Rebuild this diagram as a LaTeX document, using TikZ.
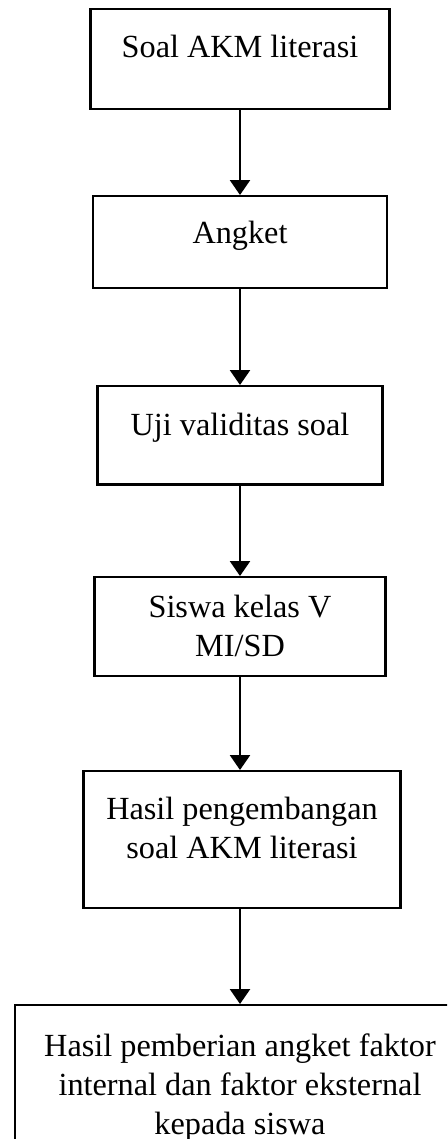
\documentclass[tikz,border=0pt]{standalone}
\usepackage{fontspec}
\setmainfont{Liberation Serif}
\usetikzlibrary{positioning, arrows.meta}
\tikzset{stepbox/.style={rectangle, draw, line width=0.9pt, anchor=north}}
\tikzset{steptext/.style={align=center, inner sep=0pt,
font=\fontsize{12.1}{14.6}\selectfont}}
\tikzset{flow/.style={-{Triangle[width=7.5pt, length=5.6pt]}, line width=0.85pt}}

\begin{document}
\begin{tikzpicture}[x=0.375pt, y=-0.375pt]
\useasboundingbox (0,0) rectangle (447,1139);
\clip (0,0) rectangle (447,1139);

\node[stepbox,
minimum width = 112pt,
minimum height = 37.5pt] (soal) at (240,8) {};

\node[stepbox,
minimum width = 110.3pt,
minimum height = 34.5pt] (angket) at (240,195) {};

\node[stepbox,
minimum width = 106.9pt,
minimum height = 36.8pt] (uji) at (240,385) {};

\node[stepbox,
minimum width = 109.1pt,
minimum height = 37.1pt] (siswa) at (240,576) {};

\node[stepbox,
minimum width = 118.9pt,
minimum height = 51.4pt] (hasil) at (242,770) {};

\node[stepbox,
minimum width = 168.8pt,
minimum height = 56pt] (respon) at (240,1004) {};

% texts sit at the top of each box
\node[steptext, anchor=north, below=10pt of soal.north] (soaltxt) {Soal AKM literasi};
\node[steptext, anchor=north, below=9.5pt of angket.north] (angkettxt) {Angket};
\node[steptext, anchor=north, below=10.5pt of uji.north] (ujitxt) {Uji validitas soal};
\node[steptext, anchor=north, below=7pt of siswa.north] (siswatxt) {Siswa kelas V\\MI/SD};
\node[steptext, anchor=north, below=10pt of hasil.north] (hasiltxt) {Hasil pengembangan\\soal AKM literasi};
\node[steptext, anchor=north, below=11pt of respon.north] (respontxt) {Hasil pemberian angket faktor\\internal dan faktor eksternal\\kepada siswa};

\draw [flow] (soal) -- (angket);
\draw [flow] (angket) -- (uji);
\draw [flow] (uji) -- (siswa);
\draw [flow] (siswa) -- (hasil.north -| siswa);
\draw [flow] (hasil.south -| siswa) -- (respon);

\end{tikzpicture}
\end{document}
